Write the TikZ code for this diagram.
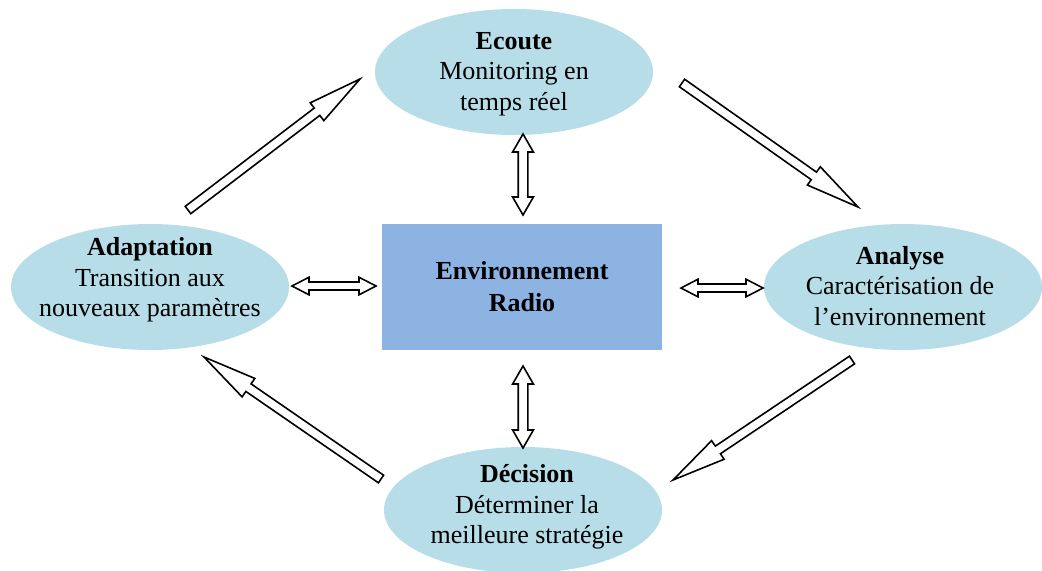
\documentclass[tikz,border=0pt]{standalone}
\usepackage{fontspec}
\setmainfont{Liberation Serif}
\usetikzlibrary{shapes.geometric,calc}
\definecolor{ellfill}{HTML}{B7DDE8}
\definecolor{boxfill}{HTML}{8DB3E2}
\tikzset{
 stage/.style={ellipse, fill=ellfill, draw=none, inner sep=0pt, minimum width=139pt, minimum height=63pt},
 stagetext/.style={align=center, font=\fontsize{13}{15.25}\selectfont, inner sep=0pt},
 envbox/.style={rectangle, fill=boxfill, draw=none, minimum width=140pt, minimum height=63pt, align=center, font=\bfseries\fontsize{13}{16}\selectfont},
 blockarrow/.style={draw=black, fill=white, line width=0.8pt, line join=miter}
}
% single block arrow: from, to, half shaft, half head, head length
\newcommand{\blockarr}[5]{%
 \coordinate (ba-h) at ($(#2)!#5!(#1)$);
 \draw[blockarrow] ($(#1)!#3!90:(#2)$) -- ($(ba-h)!#3!90:(#2)$) -- ($(ba-h)!#4!90:(#2)$) -- (#2)
   -- ($(ba-h)!#4!-90:(#2)$) -- ($(ba-h)!#3!-90:(#2)$) -- ($(#1)!#3!-90:(#2)$) -- cycle;
}
% double block arrow: end, end, half shaft, half head, head length
\newcommand{\dblarr}[5]{%
 \coordinate (da-a) at ($(#1)!#5!(#2)$);
 \coordinate (da-b) at ($(#2)!#5!(#1)$);
 \draw[blockarrow] (#1) -- ($(da-a)!#4!90:(#2)$) -- ($(da-a)!#3!90:(#2)$) -- ($(da-b)!#3!90:(#2)$)
   -- ($(da-b)!#4!90:(#2)$) -- (#2) -- ($(da-b)!#4!-90:(#2)$) -- ($(da-b)!#3!-90:(#2)$)
   -- ($(da-a)!#3!-90:(#2)$) -- ($(da-a)!#4!-90:(#2)$) -- cycle;
}
\begin{document}
\begin{tikzpicture}[x=0.5pt,y=-0.5pt]
\useasboundingbox (0,0) rectangle (1042,570);
% stages
\node[stage] (ecoute) at (514,72) {};
\node[stage] (adapt) at (150,287) {};
\node[stage] (analyse) at (903,287) {};
\node[stage] (decision) at (523,510) {};
\node[envbox] (env) at (522,287) {Environnement\\Radio};
\node[stagetext] (ecoutet) at (514,74) {\textbf{Ecoute}\\Monitoring en\\temps réel};
\node[stagetext] (adaptt) at (150,280) {\textbf{Adaptation}\\Transition aux\\nouveaux paramètres};
\node[stagetext] (analyset) at (900,286) {\textbf{Analyse}\\Caractérisation de\\l’environnement};
\node[stagetext] (decisiont) at (527,507) {\textbf{Décision}\\Déterminer la\\meilleure stratégie};
% arrow end points
\coordinate (a1s) at (188,210); \coordinate (a1e) at (360,79);
\coordinate (a2s) at (682,83);  \coordinate (a2e) at (858,207);
\coordinate (a3s) at (852,360); \coordinate (a3e) at (673,480);
\coordinate (a4s) at (381,479); \coordinate (a4e) at (204,357);
\coordinate (v1a) at (523,134); \coordinate (v1b) at (523,215);
\coordinate (v2a) at (523,366); \coordinate (v2b) at (523,448);
\coordinate (h1a) at (292,286); \coordinate (h1b) at (376,286);
\coordinate (h2a) at (681,288); \coordinate (h2b) at (763,288);
% cycle arrows
\blockarr{a1s}{a1e}{2.3pt}{5.6pt}{27pt}
\blockarr{a2s}{a2e}{2.3pt}{5.6pt}{27pt}
\blockarr{a3s}{a3e}{2.3pt}{5.6pt}{27pt}
\blockarr{a4s}{a4e}{2.3pt}{5.6pt}{27pt}
% exchanges with the environment
\dblarr{v1a}{v1b}{2.4pt}{5.2pt}{9pt}
\dblarr{v2a}{v2b}{2.4pt}{5.2pt}{9pt}
\dblarr{h1a}{h1b}{2pt}{4.4pt}{8.5pt}
\dblarr{h2a}{h2b}{2pt}{4.4pt}{8.5pt}
\end{tikzpicture}
\end{document}
